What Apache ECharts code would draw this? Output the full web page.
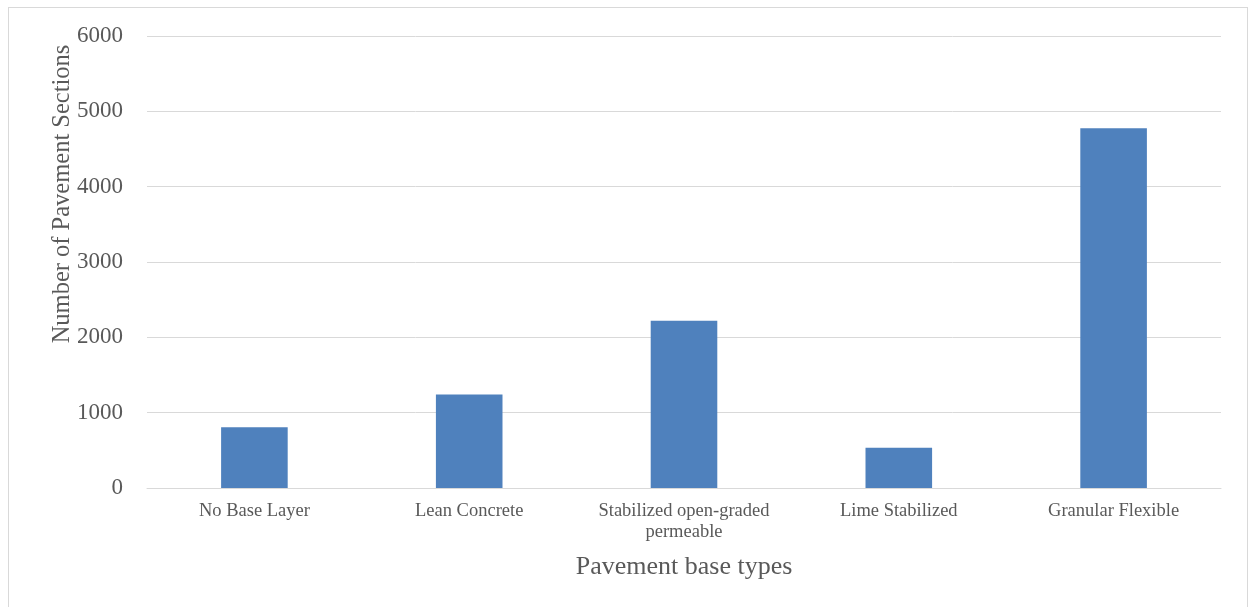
<!DOCTYPE html>
<html><head><meta charset="utf-8">
<script src="https://cdn.jsdelivr.net/npm/echarts@6/dist/echarts.min.js"></script>
<style>
html,body{margin:0;padding:0;background:#fff;}
#frame{position:absolute;left:8px;top:7px;width:1240px;height:610px;border:1px solid #d9d9d9;box-sizing:border-box;}
#c{position:absolute;left:0;top:0;width:1250px;height:607px;}
</style></head>
<body><div id="frame"></div><div id="c"></div>
<script>
const categories = ["No Base Layer", "Lean Concrete", "Stabilized open-graded\npermeable", "Lime Stabilized", "Granular Flexible"];
const sections = [805, 1240, 2220, 535, 4775];
const yTicks = { min: 0, max: 6000, interval: 1000 };
const xTitle = "Pavement base types";
const yTitle = "Number of Pavement Sections";

const chart = echarts.init(document.getElementById('c'), null, { renderer: 'canvas' });
const serif = '"Liberation Serif", "DejaVu Serif", serif';
chart.setOption({
  animation: false,
  backgroundColor: 'transparent',
  grid: { left: 147, right: 29, top: 36, bottom: 119, containLabel: false },
  xAxis: {
    type: 'category',
    data: categories,
    axisLine: { show: true, lineStyle: { color: '#d9d9d9', width: 1 } },
    axisTick: { show: false },
    axisLabel: { interval: 0, hideOverlap: false, color: '#595959', fontFamily: serif, fontSize: 18.5, margin: 13, lineHeight: 21 },
    name: xTitle,
    nameLocation: 'middle',
    nameGap: 66,
    nameTextStyle: { color: '#595959', fontFamily: serif, fontSize: 26 }
  },
  yAxis: {
    type: 'value',
    min: yTicks.min, max: yTicks.max, interval: yTicks.interval,
    axisLine: { show: false },
    axisTick: { show: false },
    splitLine: { lineStyle: { color: '#d9d9d9', width: 1 } },
    axisLabel: { color: '#595959', fontFamily: serif, fontSize: 23, margin: 24, formatter: v => String(v) }
  },
  graphic: [{
    type: 'text',
    x: 63, y: 194,
    rotation: Math.PI / 2,
    style: {
      text: yTitle,
      fill: '#595959',
      font: '24.5px ' + serif,
      align: 'center',
      verticalAlign: 'middle'
    }
  }],
  series: [{
    type: 'bar',
    data: sections,
    barWidth: '31%',
    itemStyle: { color: '#4f81bd' }
  }]
});
</script></body></html>
